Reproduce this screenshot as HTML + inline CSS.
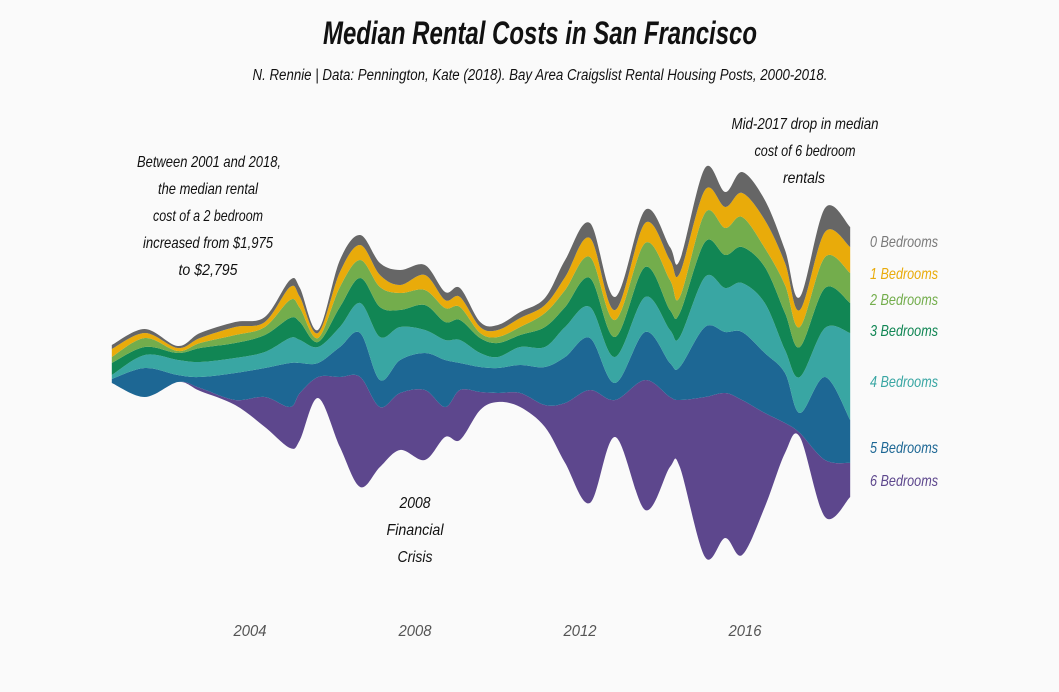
<!DOCTYPE html>
<html><head><meta charset="utf-8">
<style>
html,body{margin:0;padding:0;background:#fafafa;}
svg text{font-family:"Liberation Sans Narrow","Liberation Sans",sans-serif;font-style:italic;}
</style></head>
<body>
<svg id="chart" width="1059" height="687" viewBox="0 0 1059 687" xmlns="http://www.w3.org/2000/svg">
<rect width="1059" height="687" fill="#fafafa"/>
<text x="540" y="44" text-anchor="middle" font-size="32" font-weight="bold" fill="#111" textLength="434" lengthAdjust="spacingAndGlyphs">Median Rental Costs in San Francisco</text>
<text x="540" y="80" text-anchor="middle" font-size="15.5" fill="#111" textLength="575" lengthAdjust="spacingAndGlyphs">N. Rennie | Data: Pennington, Kate (2018). Bay Area Craigslist Rental Housing Posts, 2000-2018.</text>
<g id="layers"></g>
<g font-size="16" fill="#111" text-anchor="middle">
<text x="209" y="167" textLength="144" lengthAdjust="spacingAndGlyphs">Between 2001 and 2018,</text>
<text x="208" y="194" textLength="100" lengthAdjust="spacingAndGlyphs">the median rental</text>
<text x="208" y="221" textLength="110" lengthAdjust="spacingAndGlyphs">cost of a 2 bedroom</text>
<text x="208" y="248" textLength="130" lengthAdjust="spacingAndGlyphs">increased from $1,975</text>
<text x="208" y="275" textLength="59" lengthAdjust="spacingAndGlyphs">to $2,795</text>
</g>
<g font-size="16" fill="#111" text-anchor="middle">
<text x="415" y="508" textLength="31" lengthAdjust="spacingAndGlyphs">2008</text>
<text x="415" y="535" textLength="57" lengthAdjust="spacingAndGlyphs">Financial</text>
<text x="415" y="562" textLength="35" lengthAdjust="spacingAndGlyphs">Crisis</text>
</g>
<g font-size="16" fill="#111" text-anchor="middle">
<text x="805" y="129" textLength="147" lengthAdjust="spacingAndGlyphs">Mid-2017 drop in median</text>
<text x="805" y="156" textLength="101" lengthAdjust="spacingAndGlyphs">cost of 6 bedroom</text>
<text x="804" y="183" textLength="42" lengthAdjust="spacingAndGlyphs">rentals</text>
</g>
<g id="xaxis"></g>
<g id="legend"></g>
</svg>
<script>
const years = [2000.65,2001.45,2002.25,2002.79,2003.64,2004.36,2004.97,2005.21,2005.65,2006.18,2006.67,2007.15,2007.64,2008.24,2008.73,2009.09,2009.58,2010.01,2010.55,2011.15,2011.64,2012.24,2012.85,2013.58,2014.18,2014.42,2015.03,2015.52,2015.93,2016.48,2016.97,2017.33,2017.94,2018.55];
const seriesNames = ["0 Bedrooms","1 Bedrooms","2 Bedrooms","3 Bedrooms","4 Bedrooms","5 Bedrooms","6 Bedrooms"];
const bed0 = [4,4,2,5,5,5,7,9,3,12,10,12,15,10,8,9,5,5,6,7,17,15,13,13,13,13,22,15,21,20,13,13,24,20];
const bed1 = [8,5,3,5,8,5,13,11,5,15,15,12,8,15,8,10,6,7,9,8,13,19,10,20,20,24,23,21,24,28,22,17,25,26];
const bed2 = [6,9,2,5,8,8,18,14,4,20,18,20,17,15,14,13,5,6,8,14,17,21,17,24,30,16,29,27,30,19,28,20,31,30];
const bed3 = [12,8,7,14,15,17,20,18,5,20,25,30,17,25,18,20,15,14,12,20,20,29,20,30,20,24,35,33,36,36,37,30,40,30];
const bed4 = [4,13,15,15,15,16,25,23,16,20,30,43,33,23,20,23,14,11,18,20,30,31,26,35,33,30,50,44,49,50,23,36,49,87];
const bed5 = [4,29,7,11,27,29,44,30,14,30,44,27,33,37,47,27,25,25,28,38,46,52,17,48,34,33,70,61,68,60,50,20,83,43];
const bed6 = [0,0,0,3,5,30,41,47,21,70,110,60,57,70,30,50,18,9,14,22,60,113,37,130,70,67,160,145,155,94,30,4,57,34];
const lowerOffset = [-20,-34,-19,-28,-42,-64,-85,-77,-35,-84,-124,-104,-87,-97,-74,-77,-47,-39,-44,-64,-100,-140,-74,-147,-104,-104,-194,-175,-192,-144,-90,-74,-154,-134];
const tickYears = [2004,2008,2012,2016];
const colors = ["#666666","#e9ab0a","#73ad4c","#118654","#39a6a3","#1d6794","#5d478d"];
const labelColors = ["#7a7a7a","#e9ab0a","#73ad4c","#118654","#39a6a3","#1d6794","#5d478d"];

const xScale = y => 85 + (y - 2000) * 41.25;
const yScale = v => 363 - v;
const NS = "http://www.w3.org/2000/svg";

function spline(pts){
  let d = "";
  for(let i=0;i<pts.length-1;i++){
    const p0=pts[Math.max(0,i-1)],p1=pts[i],p2=pts[i+1],p3=pts[Math.min(pts.length-1,i+2)];
    const c1x=p1[0]+(p2[0]-p0[0])/6,c1y=p1[1]+(p2[1]-p0[1])/6;
    const c2x=p2[0]-(p3[0]-p1[0])/6,c2y=p2[1]-(p3[1]-p1[1])/6;
    d+=` C${c1x.toFixed(2)},${c1y.toFixed(2)} ${c2x.toFixed(2)},${c2y.toFixed(2)} ${p2[0].toFixed(2)},${p2[1].toFixed(2)}`;
  }
  return d;
}
const series = [bed0,bed1,bed2,bed3,bed4,bed5,bed6];
const layersG = document.getElementById("layers");
let lower = lowerOffset.slice();
for(let s=6;s>=0;s--){
  const upper = lower.map((v,i)=>v+series[s][i]);
  const top = years.map((y,i)=>[xScale(y),yScale(upper[i])]);
  const bot = years.map((y,i)=>[xScale(y),yScale(lower[i])]).reverse();
  const d = `M${top[0][0]},${top[0][1]}`+spline(top)+` L${bot[0][0]},${bot[0][1]}`+spline(bot)+"Z";
  const p = document.createElementNS(NS,"path");
  p.setAttribute("d",d);
  p.setAttribute("fill",colors[s]);
  
  
  layersG.appendChild(p);
  lower = upper;
}
const xaxis = document.getElementById("xaxis");
tickYears.forEach(t=>{
  const tx = document.createElementNS(NS,"text");
  tx.setAttribute("x",xScale(t));
  tx.setAttribute("y",636);
  tx.setAttribute("text-anchor","middle");
  tx.setAttribute("font-size","16");
  tx.setAttribute("fill","#555");
  tx.setAttribute("textLength","33");
  tx.setAttribute("lengthAdjust","spacingAndGlyphs");
  tx.textContent = t;
  
  
  xaxis.appendChild(tx);
});
const legendY = [241,273,299,330,381,447,480];
const legend = document.getElementById("legend");
seriesNames.forEach((n,i)=>{
  const tx = document.createElementNS(NS,"text");
  tx.setAttribute("x",870);
  tx.setAttribute("y",legendY[i]+6);
  tx.setAttribute("font-size","16");
  tx.setAttribute("fill",labelColors[i]);
  tx.setAttribute("textLength","68");
  tx.setAttribute("lengthAdjust","spacingAndGlyphs");
  tx.textContent = n;
  
  
  legend.appendChild(tx);
});
</script>
</body></html>
